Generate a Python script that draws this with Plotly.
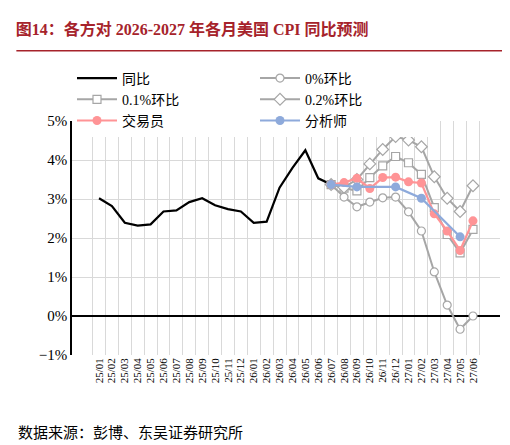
import plotly.graph_objects as go

months = ['25/01', '25/02', '25/03', '25/04', '25/05', '25/06', '25/07', '25/08', '25/09', '25/10',
          '25/11', '25/12', '26/01', '26/02', '26/03', '26/04', '26/05', '26/06', '26/07', '26/08',
          '26/09', '26/10', '26/11', '26/12', '27/01', '27/02', '27/03', '27/04', '27/05', '27/06']

actual = [3.02, 2.82, 2.39, 2.32, 2.35, 2.68, 2.71, 2.92, 3.02, 2.84, 2.74, 2.68, 2.39, 2.42,
          3.29, 3.80, 4.25, 3.53, 3.37] + [None] * 11
mom_0 = [None] * 18 + [3.37, 3.05, 2.80, 2.92, 3.03, 3.05, 2.67, 2.18, 1.13, 0.28, -0.34, 0.0]
mom_01 = [None] * 18 + [3.37, 3.28, 3.21, 3.55, 3.85, 4.09, 3.93, 3.63, 2.78, 2.09, 1.62, 2.22]
mom_02 = [None] * 18 + [3.37, 3.30, 3.50, 3.90, 4.27, 4.60, 4.51, 4.34, 3.57, 3.02, 2.68, 3.34]
traders = [None] * 18 + [3.37, 3.42, 3.53, 3.27, 3.55, 3.56, 3.44, 3.41, 2.62, 2.18, 1.68, 2.44]
analysts = [None] * 18 + [3.37, None, 3.31, None, None, 3.31, None, 3.02, None, None, 2.03, None]

cjk = '"Liberation Serif", "Noto Sans CJK SC"'
gray = '#a6a6a6'

fig = go.Figure()
fig.add_trace(go.Scatter(x=months, y=actual, name='同比', mode='lines',
                         line=dict(color='black', width=2.2)))
fig.add_trace(go.Scatter(x=months, y=mom_0, name='0%环比', mode='lines+markers',
                         line=dict(color=gray, width=2),
                         marker=dict(symbol='circle', size=8, color='white', line=dict(color=gray, width=1.2))))
fig.add_trace(go.Scatter(x=months, y=mom_01, name='0.1%环比', mode='lines+markers',
                         line=dict(color=gray, width=2),
                         marker=dict(symbol='square', size=8, color='white', line=dict(color=gray, width=1.2))))
fig.add_trace(go.Scatter(x=months, y=mom_02, name='0.2%环比', mode='lines+markers',
                         line=dict(color=gray, width=2),
                         marker=dict(symbol='diamond', size=9, color='white', line=dict(color=gray, width=1.2))))
fig.add_trace(go.Scatter(x=months, y=traders, name='交易员', mode='lines+markers',
                         line=dict(color='#ff9496', width=2.2),
                         marker=dict(symbol='circle', size=9, color='#ff9496')))
fig.add_trace(go.Scatter(x=months, y=analysts, name='分析师', mode='lines+markers', connectgaps=True,
                         line=dict(color='#8eaadb', width=2.2),
                         marker=dict(symbol='circle', size=9, color='#8eaadb')))

fig.update_layout(
    width=510, height=445,
    margin=dict(l=64, r=18, t=113, b=98),
    paper_bgcolor='white', plot_bgcolor='white',
    font=dict(family=cjk, size=14, color='black'),
    showlegend=True,
    legend=dict(orientation='h', x=0.0, y=1.25, xanchor='left', yanchor='top',
                entrywidth=128, entrywidthmode='pixels', font=dict(size=14),
                itemwidth=40, tracegroupgap=0),
    xaxis=dict(type='category', tickangle=-90, tickson='boundaries', ticks='',
               tickmode='array', tickvals=months, ticktext=months,
               showgrid=True, gridcolor='#d9d9d9', showline=False,
               tickfont=dict(size=11)),
    yaxis=dict(range=[-1, 5], dtick=1, ticksuffix='%', showgrid=True, gridcolor='#d9d9d9',
               showline=True, linecolor='black', linewidth=1.5, zeroline=True,
               zerolinecolor='black', zerolinewidth=1.5, tickfont=dict(size=15)),
    title=dict(text='<b>图14：各方对 2026-2027 年各月美国 CPI 同比预测</b>', x=0.015, xanchor='left',
               y=0.965, font=dict(size=16, color='#a6232b')),
)
fig.add_shape(type='line', xref='paper', yref='paper', x0=-0.13, x1=1.03, y0=1.3, y1=1.3,
              line=dict(color='#a6232b', width=1.5))
fig.add_annotation(text='数据来源：彭博、东吴证券研究所', xref='paper', yref='paper', x=-0.13, y=-0.29,
                   xanchor='left', yanchor='top', showarrow=False, font=dict(size=15))

fig.write_html("out.html")
